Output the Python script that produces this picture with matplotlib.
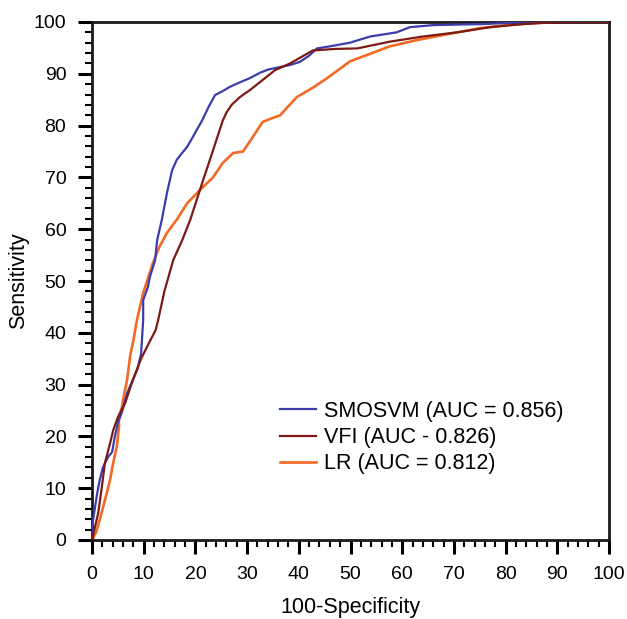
import matplotlib
matplotlib.use("Agg")
import matplotlib.pyplot as plt
from matplotlib.ticker import MultipleLocator

plt.rcParams['font.family'] = ['Liberation Sans', 'DejaVu Sans']

# ROC curves (x = 100-Specificity, y = Sensitivity)
svm_x = [0, 0, 0.6, 1.0, 1.5, 2.1, 3.1, 3.9, 4.4, 5.0, 5.8, 6.8, 7.9, 8.8, 9.5,
         9.9, 9.9, 10.8, 11.2, 12.2, 12.6, 13.5, 14.5, 15.5, 16.4, 17.5, 18.4,
         19.5, 21.3, 22.5, 23.8, 25.0, 26.7, 28.5, 30.6, 32.5, 34.0, 35.4, 38.3,
         40.2, 42.0, 43.5, 46.0, 49.9, 53.8, 58.9, 61.5, 66.0, 75.6, 82.2, 86.0, 100]
svm_y = [0, 2.5, 6.4, 9.0, 11.6, 14.0, 16.0, 17.0, 19.9, 22.6, 24.7, 28.4, 30.9,
         33.0, 36.0, 42.5, 46.3, 48.8, 50.8, 54.0, 57.9, 61.8, 67.0, 71.4, 73.4,
         74.8, 75.9, 77.8, 81.0, 83.5, 85.9, 86.5, 87.5, 88.3, 89.2, 90.2, 90.8,
         91.1, 91.7, 92.3, 93.5, 94.9, 95.3, 96.0, 97.2, 98.0, 99.0, 99.4, 99.6,
         99.9, 100, 100]

vfi_x = [0, 1.2, 1.9, 2.5, 3.5, 4.1, 5.0, 6.4, 7.9, 9.5, 11.0, 12.3, 12.8, 14.0,
         15.7, 17.5, 19.0, 21.5, 23.5, 25.3, 26.0, 27.0, 28.6, 30.6, 33.0, 35.4,
         38.3, 42.7, 47.0, 51.3, 57.6, 64.0, 70.6, 77.0, 83.4, 88.6, 92.0, 100]
vfi_y = [0, 5.2, 10.2, 14.9, 18.7, 21.2, 23.7, 26.4, 30.9, 35.0, 38.0, 40.5, 42.5,
         48.0, 54.0, 58.0, 61.8, 69.5, 75.5, 81.0, 82.5, 84.0, 85.5, 86.9, 88.8,
         90.7, 92.0, 94.5, 94.8, 94.9, 96.2, 97.2, 98.0, 99.0, 99.6, 99.9, 100, 100]

lr_x = [0, 0.8, 1.5, 2.5, 3.5, 4.1, 4.8, 5.2, 5.2, 5.8, 6.0, 6.8, 7.4, 8.0, 8.7,
        9.9, 11.8, 13.0, 14.5, 16.5, 18.4, 20.9, 23.4, 25.3, 27.3, 29.2, 31.1,
        33.0, 34.5, 36.4, 39.6, 42.7, 45.4, 49.9, 53.1, 57.6, 62.8, 68.0, 71.2,
        75.0, 80.2, 87.2, 92.0, 100]
lr_y = [0, 1.5, 3.9, 7.7, 11.6, 14.9, 18.0, 21.8, 23.7, 25.7, 27.0, 31.0, 35.7,
        38.5, 42.5, 47.7, 53.5, 56.5, 59.3, 62.0, 65.0, 67.6, 70.0, 72.8, 74.7,
        75.0, 77.8, 80.7, 81.3, 82.0, 85.5, 87.3, 89.1, 92.4, 93.6, 95.3, 96.5,
        97.5, 98.1, 98.8, 99.4, 99.9, 100, 100]

labels = ["SMOSVM (AUC = 0.856)", "VFI (AUC - 0.826)", "LR (AUC = 0.812)"]
colors = ["#3c3cae", "#7d1a14", "#f26a23"]

fig = plt.figure(figsize=(6.27, 6.19), dpi=100)
ax = fig.add_axes([92 / 627, 79 / 619, 517 / 627, 518 / 619])

ax.plot(svm_x, svm_y, color=colors[0], lw=1.6, label=labels[0], zorder=3)
ax.plot(vfi_x, vfi_y, color=colors[1], lw=1.6, label=labels[1], zorder=4)
ax.plot(lr_x, lr_y, color=colors[2], lw=1.9, label=labels[2], zorder=2)

ax.set_xlim(0, 100)
ax.set_ylim(0, 100)
ax.xaxis.set_major_locator(MultipleLocator(10))
ax.yaxis.set_major_locator(MultipleLocator(10))
ax.xaxis.set_minor_locator(MultipleLocator(2))
ax.yaxis.set_minor_locator(MultipleLocator(2))
ax.tick_params(which='major', direction='out', length=10, width=2.2,
               labelsize=14, pad=8.5, top=False, right=False)
ax.tick_params(which='minor', direction='out', length=5, width=1.5,
               top=False, right=False)
for s in ax.spines.values():
    s.set_linewidth(2)
    s.set_color('#1a1a1a')

ax.set_xlabel("100-Specificity", fontsize=15.5, labelpad=10)
ax.set_ylabel("Sensitivity", fontsize=15.5, labelpad=3)

ax.legend(loc='upper left', bbox_to_anchor=(0.364, 0.269), frameon=False,
          fontsize=15.5, handlelength=1.65, handletextpad=0.4,
          labelspacing=0.25, borderpad=0, borderaxespad=0)

fig.savefig("out.png", dpi=100)
